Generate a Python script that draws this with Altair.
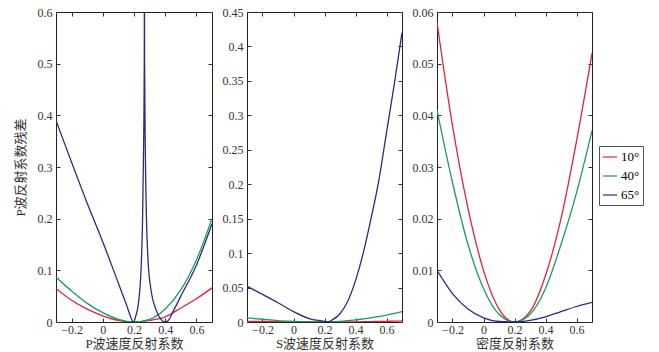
import altair as alt
import pandas as pd

angles = ["10°", "40°", "65°"]
colors = ["#e0243c", "#1e9a5c", "#2b2c7e"]

# Panel 1: P-wave velocity reflection coefficient
p_x_red = [-0.3, -0.2, -0.1, 0.0, 0.1, 0.2, 0.3, 0.4, 0.5, 0.6, 0.7]
p_y_red = [0.065, 0.042, 0.025, 0.012, 0.003, 0.0, 0.003, 0.010, 0.027, 0.045, 0.066]
p_x_green = [-0.3, -0.2, -0.1, 0.0, 0.1, 0.2, 0.3, 0.4, 0.5, 0.6, 0.7]
p_y_green = [0.087, 0.060, 0.036, 0.018, 0.005, 0.0, 0.005, 0.025, 0.062, 0.120, 0.200]
p_x_blue = [-0.3, -0.1, 0.0, 0.1, 0.15, 0.198, 0.21, 0.23, 0.245, 0.255, 0.262, 0.266, 0.267,
            0.268, 0.272, 0.28, 0.29, 0.31, 0.34, 0.37, 0.40, 0.42, 0.45, 0.5, 0.6, 0.7]
p_y_blue = [0.39, 0.23, 0.155, 0.075, 0.035, 0.0, 0.01, 0.04, 0.10, 0.20, 0.35, 0.50, 0.70,
            0.50, 0.35, 0.20, 0.12, 0.06, 0.025, 0.006, 0.0, 0.003, 0.02, 0.05, 0.11, 0.19]

# Panel 2: S-wave velocity reflection coefficient
s_x = [-0.3, -0.2, -0.1, 0.0, 0.1, 0.2, 0.22, 0.25, 0.3, 0.35, 0.4, 0.45, 0.5, 0.55, 0.6, 0.65, 0.7]
s_y_red = [0.001, 0.001, 0.0005, 0.0002, 0.0, 0.0, 0.0, 0.0, 0.0, 0.0001, 0.0002, 0.0004, 0.0006, 0.0008, 0.001, 0.0012, 0.0015]
s_y_green = [0.006, 0.004, 0.002, 0.001, 0.0003, 0.0, 0.0, 0.0002, 0.001, 0.002, 0.003, 0.0045, 0.006, 0.008, 0.010, 0.0125, 0.015]
s_y_blue = [0.052, 0.040, 0.028, 0.015, 0.005, 0.001, 0.0, 0.003, 0.012, 0.030, 0.060, 0.100, 0.150, 0.205, 0.275, 0.345, 0.420]

# Panel 3: density reflection coefficient
d_x = [-0.3, -0.2, -0.1, 0.0, 0.1, 0.2, 0.3, 0.4, 0.5, 0.6, 0.7]
d_y_red = [0.058, 0.038, 0.022, 0.010, 0.0025, 0.0, 0.002, 0.009, 0.020, 0.035, 0.052]
d_y_green = [0.041, 0.027, 0.015, 0.0065, 0.0015, 0.0, 0.0015, 0.0065, 0.015, 0.025, 0.037]
d_y_blue = [0.010, 0.0055, 0.0025, 0.0008, 0.0001, 0.0, 0.0003, 0.001, 0.002, 0.003, 0.0038]

x_ticks = [-0.2, 0, 0.2, 0.4, 0.6]


def frame(xs_list, ys_list):
    rows = []
    for ang, xs, ys in zip(angles, xs_list, ys_list):
        for i, (x, y) in enumerate(zip(xs, ys)):
            rows.append({"x": x, "y": y, "angle": ang, "order": i})
    return pd.DataFrame(rows)


df_p = frame([p_x_red, p_x_green, p_x_blue], [p_y_red, p_y_green, p_y_blue])
df_s = frame([s_x, s_x, s_x], [s_y_red, s_y_green, s_y_blue])
df_d = frame([d_x, d_x, d_x], [d_y_red, d_y_green, d_y_blue])

FONT = "Liberation Serif, Noto Sans CJK SC"
color = alt.Color("angle:N", scale=alt.Scale(domain=angles, range=colors),
                  legend=alt.Legend(title=None, orient="none", legendX=543, legendY=134,
                                    symbolType="stroke", symbolSize=200, symbolStrokeWidth=1.2,
                                    labelFont=FONT, labelFontSize=13, rowPadding=4,
                                    strokeColor="#555", fillColor="white", padding=3,
                                    labelOffset=3))

TK = 4


def panel(df, xtitle, ymax, ystep, width, height, ytitle=None, extent=30):
    yticks = [round(i * ystep, 4) for i in range(int(round(ymax / ystep)) + 1)]
    xs = alt.Scale(domain=[-0.3, 0.7], nice=False, zero=False)
    ys = alt.Scale(domain=[0, ymax], nice=False)
    yaxis = dict(values=yticks, format=".2~f", tickSize=TK, offset=-TK, labelPadding=4,
                 minExtent=extent, maxExtent=extent, grid=False, domain=False, orient="left")
    if ytitle:
        yaxis["title"] = ytitle
        yaxis["titlePadding"] = 6
    else:
        yaxis["title"] = None
    main = alt.Chart(df).mark_line(strokeWidth=1.3, clip=True, interpolate="monotone").encode(
        x=alt.X("x:Q", scale=xs,
                axis=alt.Axis(values=x_ticks, format="~g", title=xtitle, orient="bottom",
                              tickSize=TK, offset=-TK, labelPadding=2, titlePadding=2,
                              grid=False, domain=False)),
        y=alt.Y("y:Q", scale=ys, axis=alt.Axis(**yaxis)),
        color=color,
        order="order:Q",
        detail="angle:N",
    )
    mirror = alt.Chart(df).mark_line(strokeOpacity=0, clip=True).encode(
        x=alt.X("x:Q", scale=xs,
                axis=alt.Axis(values=x_ticks, labels=False, title=None, orient="top",
                              tickSize=TK, offset=-TK, grid=False, domain=False,
                              minExtent=0, maxExtent=0)),
        y=alt.Y("y:Q", scale=ys,
                axis=alt.Axis(values=yticks, labels=False, title=None, orient="right",
                              tickSize=TK, offset=-TK, grid=False, domain=False,
                              minExtent=0, maxExtent=0)),
        color=color,
        detail="angle:N",
    )
    return alt.layer(main, mirror).resolve_axis(x="independent", y="independent").properties(
        width=width, height=height)


H = 310
c1 = panel(df_p, "P波速度反射系数", 0.6, 0.1, 156, H, ytitle="P波反射系数残差", extent=27)
c2 = panel(df_s, "S波速度反射系数", 0.45, 0.05, 155, H, extent=29)
c3 = panel(df_d, "密度反射系数", 0.06, 0.01, 155, H, extent=27)

chart = alt.hconcat(c1, c2, c3, spacing=8).properties(
    padding={"left": 13, "top": 5, "right": 5, "bottom": 0},
    background="white"
).configure_view(stroke="#222", strokeWidth=1).configure_axis(
    labelFont=FONT, labelFontSize=12, labelColor="#333", titleFont=FONT, titleFontSize=13,
    titleFontWeight="normal", titleColor="#333", tickColor="#333"
)

chart.save("out.html", embed_options={"renderer": "svg", "actions": False})
